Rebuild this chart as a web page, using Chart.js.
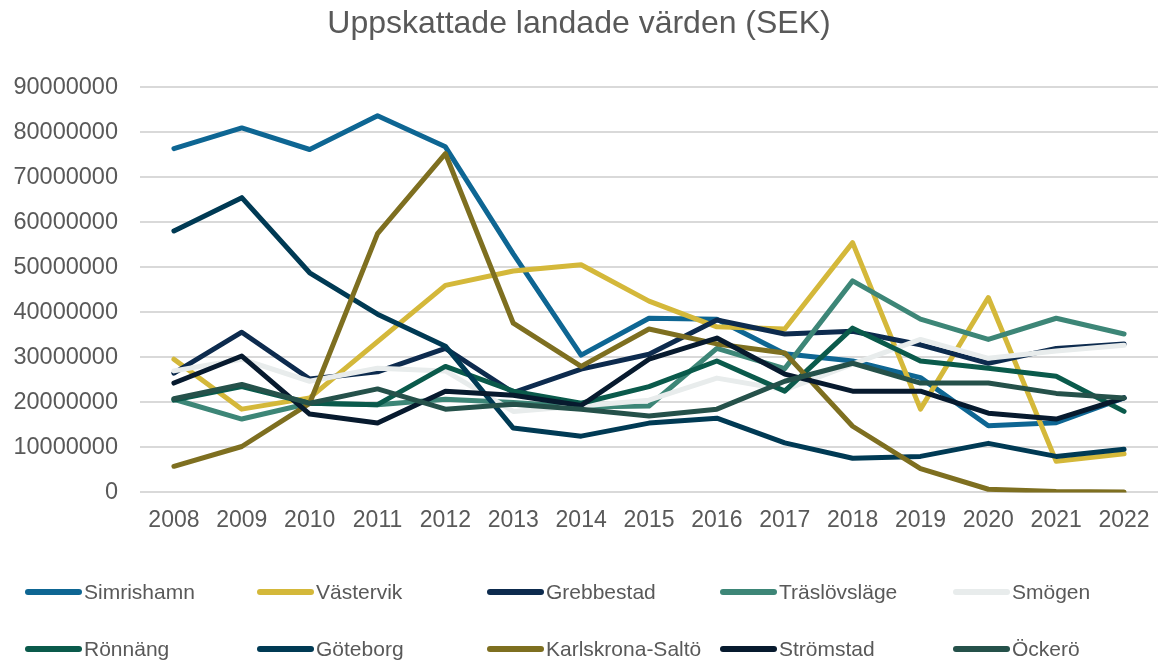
<!DOCTYPE html>
<html lang="sv">
<head>
<meta charset="utf-8">
<title>Uppskattade landade värden (SEK)</title>
<script src="https://cdn.jsdelivr.net/npm/chart.js@4.4.1/dist/chart.umd.min.js"></script>
<style>
  html, body { margin: 0; padding: 0; background: #fff; }
  body { width: 1158px; height: 661px; position: relative; overflow: hidden;
         font-family: "Liberation Sans", Arial, sans-serif; }
  .chart-box { position: absolute; left: 0; top: 0; width: 1158px; height: 552px; }
  .legend { position: absolute; left: 0; top: 0; width: 1158px; height: 661px; pointer-events: none; }
  .legend-item { position: absolute; display: flex; align-items: center; height: 30px;
                 font-size: 21px; color: #595959; white-space: nowrap; }
  .legend-swatch { width: 57px; height: 6px; border-radius: 3px; margin-right: 2px; }
</style>
</head>
<body>
<div class="chart-box"><canvas id="landedChart"></canvas></div>
<div class="legend" id="legend"></div>

<script>
// =========================
// DATA
// =========================
const years = ['2008', '2009', '2010', '2011', '2012', '2013', '2014', '2015',
               '2016', '2017', '2018', '2019', '2020', '2021', '2022'];

const harbours = ['Simrishamn', 'Västervik', 'Grebbestad', 'Träslövsläge', 'Smögen',
                  'Rönnäng', 'Göteborg', 'Karlskrona-Saltö', 'Strömstad', 'Öckerö'];

const simrishamn = [76400000, 81000000, 76200000, 83700000, 76800000, 53000000, 30500000, 38700000,
                    38500000, 30800000, 29200000, 25500000, 14800000, 15500000, 21000000];
const vastervik = [29600000, 18500000, 21000000, 33500000, 46000000, 49200000, 50600000, 42500000,
                   36800000, 36300000, 55500000, 18500000, 43300000, 6900000, 8600000];
const grebbestad = [26500000, 35600000, 25200000, 26800000, 32000000, 22200000, 27400000, 30700000,
                    38300000, 35200000, 35800000, 32800000, 28700000, 32000000, 33000000];
const traslovslage = [20700000, 16300000, 19800000, 19500000, 20700000, 20000000, 19000000, 19200000,
                      32000000, 27500000, 47000000, 38500000, 34000000, 38700000, 35200000];
const smogen = [27000000, 29600000, 24700000, 27600000, 27000000, 18000000, 19200000, 20500000,
                25400000, 22800000, 28500000, 34000000, 29800000, 31400000, 32700000];
const ronnang = [20500000, 23500000, 19800000, 19500000, 28000000, 22500000, 19800000, 23500000,
                 29200000, 22500000, 36500000, 29200000, 27600000, 25800000, 18000000];
const goteborg = [58100000, 65500000, 48800000, 39600000, 32500000, 14300000, 12500000, 15400000,
                  16500000, 11000000, 7600000, 8000000, 10900000, 8000000, 9600000];
const karlskrona = [5800000, 10200000, 19800000, 57500000, 75300000, 37600000, 28000000, 36300000,
                    33000000, 31000000, 14700000, 5300000, 700000, 200000, 100000];
const stromstad = [24300000, 30300000, 17400000, 15400000, 22500000, 21600000, 19300000, 29600000,
                   34300000, 26300000, 22500000, 22500000, 17600000, 16300000, 21000000];
const ockero = [20800000, 24000000, 19800000, 23000000, 18500000, 19600000, 18500000, 17000000,
                18500000, 24700000, 28700000, 24300000, 24300000, 22000000, 21000000];

const yTicks = [0, 10000000, 20000000, 30000000, 40000000, 50000000, 60000000, 70000000, 80000000, 90000000];

const seriesValues = [simrishamn, vastervik, grebbestad, traslovslage, smogen,
                      ronnang, goteborg, karlskrona, stromstad, ockero];

const seriesColors = ['#0e6693', '#d4b83a', '#0d2b4e', '#3d8677', '#e8ecec',
                      '#0a5a4b', '#003a54', '#7e6f20', '#071a2e', '#25514a'];

// =========================
// CHART
// =========================
const FONT = '"Liberation Sans", Arial, sans-serif';
const TEXT = '#595959';

// last series on top, like the original spreadsheet chart
const datasets = harbours.map((name, i) => ({
  label: name,
  data: seriesValues[i],
  borderColor: seriesColors[i],
  backgroundColor: seriesColors[i],
  borderWidth: 5,
  pointRadius: 0,
  tension: 0,
  borderCapStyle: 'round',
  borderJoinStyle: 'round',
  order: harbours.length - i
}));

new Chart(document.getElementById('landedChart'), {
  type: 'line',
  data: { labels: years, datasets: datasets },
  options: {
    responsive: true,
    maintainAspectRatio: false,
    animation: false,
    layout: { padding: { left: 0, right: 0, top: 0, bottom: 4 } },
    plugins: {
      legend: { display: false },
      tooltip: { enabled: false },
      title: {
        display: true,
        text: 'Uppskattade landade värden (SEK)',
        color: TEXT,
        font: { family: FONT, size: 32, weight: 'normal' },
        padding: { top: 5, bottom: 44 }
      }
    },
    scales: {
      x: {
        offset: true,
        grid: { display: false, drawTicks: false },
        border: { display: false },
        ticks: { color: TEXT, font: { family: FONT, size: 23 }, padding: 14, maxRotation: 0 },
        // keep the plot running to the right edge
        afterFit: (scale) => { scale.paddingLeft = 0; scale.paddingRight = 0; }
      },
      y: {
        min: 0,
        max: yTicks[yTicks.length - 1],
        afterBuildTicks: (scale) => { scale.ticks = yTicks.map(v => ({ value: v })); },
        afterFit: (scale) => { scale.width = 140; },
        grid: { color: '#d9d9d9', lineWidth: 2, drawTicks: false },
        border: { display: false },
        ticks: {
          color: TEXT,
          font: { family: FONT, size: 23.5 },
          padding: 22,
          callback: (v) => String(v)
        }
      }
    }
  }
});

// =========================
// LEGEND (two rows of five)
// =========================
const legend = document.getElementById('legend');
const colLeft = [25, 257, 487, 720, 953];
const rowMid = [592, 649];

harbours.forEach((name, i) => {
  const item = document.createElement('div');
  item.className = 'legend-item';
  item.style.left = colLeft[i % 5] + 'px';
  item.style.top = (rowMid[Math.floor(i / 5)] - 15) + 'px';

  const swatch = document.createElement('span');
  swatch.className = 'legend-swatch';
  swatch.style.background = seriesColors[i];

  const label = document.createElement('span');
  label.textContent = name;

  item.appendChild(swatch);
  item.appendChild(label);
  legend.appendChild(item);
});
</script>
</body>
</html>
